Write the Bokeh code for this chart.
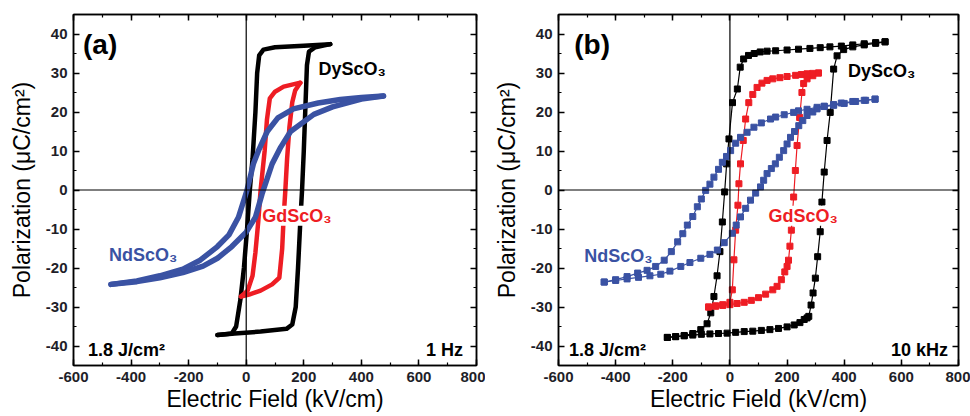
from bokeh.plotting import figure
from bokeh.models import (Span, Label, LinearAxis, SingleIntervalTicker, Range1d,
                          NumeralTickFormatter, CustomJSTickFormatter)
from bokeh.layouts import row
from bokeh.embed import file_html
from bokeh.resources import INLINE

# ---------------- Panel (a): 1 Hz ----------------
# DyScO3 (a)
a_dy_inc_E = [-100, -40, 50, 140, 160, 172, 180, 188, 194, 200, 206, 211, 218, 240, 292]
a_dy_inc_P = [-37.2, -36.8, -36.3, -35.6, -34.5, -30, -20, -8, 0, 10, 22, 32, 35.5, 36.6, 37.4]
a_dy_dec_E = [292, 200, 100, 60, 45, 38, 32, 22, 12.5, 3, -8, -20, -35, -50, -100]
a_dy_dec_P = [37.4, 37.0, 36.6, 36.0, 34.5, 30, 20, 8, 0, -10, -20, -28, -35, -36.8, -37.2]
# GdScO3 (a)
a_gd_inc_E = [-18, 10, 50, 90, 115, 125, 130, 136, 142, 150, 160, 170, 188]
a_gd_inc_P = [-27.3, -26.8, -25.8, -24.2, -22.5, -15, -7, 0, 8, 16, 22.5, 25.5, 27.5]
a_gd_dec_E = [188, 170, 130, 100, 82, 72, 64, 50, 42, 32, 22, 5, -18]
a_gd_dec_P = [27.5, 27.2, 26.5, 25.2, 23.5, 18, 10, 0, -8, -16, -22, -25.8, -27.3]
# NdScO3 (a)
a_nd_dec_E = [477, 400, 327, 250, 164, 110, 73, 45, 25, 3, -27, -60, -100, -160, -220, -300, -380, -470]
a_nd_dec_P = [24.1, 23.7, 23.2, 22.3, 20.8, 18.5, 15, 10.5, 6.7, 0, -7, -11.5, -14.5, -18, -20.3, -22, -23.3, -24.2]
a_nd_inc_E = [-470, -380, -300, -220, -150, -100, -50, 0, 32, 55, 90, 120, 154, 235, 300, 400, 477]
a_nd_inc_P = [-24.2, -23.5, -22.5, -21.2, -19.5, -17.5, -14.5, -10.8, -7, -1, 6.7, 11, 15, 19.4, 21.3, 23.3, 24.1]

# ---------------- Panel (b): 10 kHz ----------------
# DyScO3 (b)
b_dy_inc_E = [-219, -190, -160, -130, -100, -70, -40, -10, 20, 50, 80, 110, 140, 170, 200, 225, 245, 260,
              270, 276, 284, 291, 299, 307, 316, 322, 330, 340, 351, 363, 375, 398, 430, 470, 510, 543]
b_dy_inc_P = [-37.8, -37.6, -37.4, -37.2, -37.0, -36.9, -36.8, -36.7, -36.5, -36.3, -36.2, -36.0, -35.8, -35.5,
              -35.1, -34.6, -34.0, -33.2, -32.8, -32.4, -29.5, -26.4, -22.6, -17.1, -10.7, -3.1, 4.6, 12.7,
              19.9, 31.0, 34.4, 36.0, 36.7, 37.2, 37.6, 38.0]
b_dy_dec_E = [543, 510, 470, 430, 390, 350, 316, 280, 240, 200, 160, 130, 106, 85, 65, 48, 36, 26, 9,
              -3.4, -11.5, -18.5, -26.5, -35, -45, -56, -67, -80, -102, -130, -160, -190, -219]
b_dy_dec_P = [38.0, 37.8, 37.5, 37.2, 36.9, 36.7, 36.5, 36.3, 36.1, 35.9, 35.7, 35.6, 35.4, 35.0, 34.5,
              33.6, 31.5, 25.9, 22.4, 13.1, 6.7, -0.5, -8.2, -15.8, -22.0, -27.3, -31.5, -34.3, -35.8,
              -36.8, -37.3, -37.6, -37.8]
# GdScO3 (b)
b_gd_inc_E = [-75, -50, -25, 0, 25, 50, 75, 100, 125, 150, 165, 180, 192, 200, 205, 210, 215, 219, 223,
              229, 235, 244, 252, 258, 270, 290, 310]
b_gd_inc_P = [-30.0, -29.8, -29.6, -29.4, -29.1, -28.8, -28.3, -27.6, -26.7, -25.6, -24.7, -23.0, -21.0,
              -19.6, -18.0, -14.4, -10.3, -6.0, -1.8, 5.0, 11.4, 18.6, 25.0, 27.3, 28.5, 29.3, 30.0]
b_gd_dec_E = [310, 290, 270, 250, 230, 200, 175, 150, 130, 112, 95, 80, 66, 55, 46.6, 37, 31.5, 28, 20,
              14, 8.4, 0, -25, -50, -75]
b_gd_dec_P = [30.0, 29.9, 29.8, 29.6, 29.4, 29.1, 28.8, 28.5, 28.1, 27.4, 26.3, 24.5, 22.4, 18.2, 12.7,
              6.7, 1.6, -3.9, -10.3, -17.9, -25.6, -28.8, -29.4, -29.7, -30.0]
# NdScO3 (b)
b_nd_dec_E = [508, 470, 430, 390, 363, 330, 305, 270, 240, 223, 190, 160, 142, 110, 84, 60, 37, 20, 2.4,
              -12, -26.5, -40, -56, -70, -85, -100, -114, -130, -149, -165, -183, -205, -230, -260, -290,
              -323, -360, -400, -440]
b_nd_dec_P = [23.3, 23.0, 22.7, 22.3, 21.9, 21.5, 21.2, 20.7, 20.3, 19.9, 19.3, 18.7, 18.2, 17.2, 16.1,
              14.8, 13.5, 12.0, 10.1, 8.6, 7.1, 5.3, 3.3, 1.5, -0.1, -2.3, -4.3, -6.8, -9.0, -11.2, -13.3,
              -15.8, -18.0, -19.6, -20.6, -21.3, -22.2, -23.0, -23.6]
b_nd_inc_E = [-440, -400, -360, -320, -280, -242, -210, -172, -140, -102, -70, -44, -20, 8.4, 22, 37, 55,
              72, 90, 107, 118, 130, 145, 159, 173, 188, 200, 212, 226, 241, 255, 270, 290, 305, 330, 363,
              400, 440, 475, 508]
b_nd_inc_P = [-23.6, -23.2, -22.8, -22.4, -22.0, -21.6, -20.8, -19.6, -18.6, -17.5, -16.5, -15.4, -13.5,
              -11.1, -9.0, -6.9, -4.7, -2.6, -0.8, 0.8, 2.5, 4.2, 5.5, 6.7, 8.4, 10.1, 11.8, 13.5, 15.0,
              16.5, 17.8, 19.1, 20.0, 20.8, 21.4, 21.7, 22.2, 22.7, 23.0, 23.3]

x_ticks_interval = 200
y_ticks_interval = 10

BLACK = "#000000"
RED = "#ee1d24"
BLUE = "#3a52a3"
FONT = "Liberation Sans"
TICKC = "#1e1e28"


def make_fig(width, border_right):
    p = figure(width=width, height=416, x_range=Range1d(-600, 800), y_range=Range1d(-45, 45),
               output_backend="svg", toolbar_location=None,
               min_border_left=73, min_border_right=border_right, min_border_top=14, min_border_bottom=51)
    p.grid.visible = False
    p.outline_line_color = "black"
    p.outline_line_width = 1.5
    p.background_fill_color = "white"
    p.border_fill_color = "white"
    xt = SingleIntervalTicker(interval=x_ticks_interval, num_minor_ticks=2)
    yt = SingleIntervalTicker(interval=y_ticks_interval, num_minor_ticks=2)
    p.xaxis.ticker = xt
    p.yaxis.ticker = yt
    for ax in (p.xaxis[0], p.yaxis[0]):
        ax.formatter = NumeralTickFormatter(format="0")
        ax.axis_line_width = 1.5
        ax.major_tick_in = 6
        ax.major_tick_out = 0
        ax.minor_tick_in = 3
        ax.minor_tick_out = 0
        ax.major_tick_line_width = 1.5
        ax.minor_tick_line_width = 1.2
        ax.major_label_text_font = FONT
        ax.major_label_text_font_style = "bold"
        ax.major_label_text_font_size = "15px"
        ax.major_label_text_color = TICKC
        ax.major_label_text_line_height = 1.0
        ax.axis_label_text_font = FONT
        ax.axis_label_text_font_style = "normal"
        ax.axis_label_text_color = "black"
        ax.axis_label_text_line_height = 1.0
        ax.axis_label_text_font_size = "23px"
    p.xaxis.axis_label = "Electric Field (kV/cm)"
    p.xaxis.major_label_standoff = 6
    p.xaxis.axis_label_standoff = 1
    p.yaxis.axis_label = "Polarization (\u03bcC/cm\u00b2)"
    p.yaxis.major_label_standoff = 6
    p.yaxis.axis_label_standoff = 8
    for loc, tk in (("above", xt), ("right", yt)):
        ax = LinearAxis(ticker=tk, formatter=CustomJSTickFormatter(code="return ''"),
                        major_label_standoff=0, axis_label_standoff=0, axis_line_width=1.5,
                        major_tick_in=6, major_tick_out=0, minor_tick_in=3, minor_tick_out=0,
                        major_tick_line_width=1.5, minor_tick_line_width=1.2)
        p.add_layout(ax, loc)
    p.add_layout(Span(location=0, dimension="width", line_color="black", line_width=1.2))
    p.add_layout(Span(location=0, dimension="height", line_color="black", line_width=1.2))
    return p


def add_label(p, x, y, text, color="black", size="18px", align="left", bg=None):
    lab = Label(x=x, y=y, text=text, text_font=FONT, text_font_size=size, text_font_style="bold",
                text_color=color, text_align=align, text_baseline="middle")
    if bg:
        lab.background_fill_color = bg
    p.add_layout(lab)


# ---- panel (a)
pa = make_fig(485, 9)
for E, P, c, w in ((a_dy_inc_E, a_dy_inc_P, BLACK, 4.5), (a_dy_dec_E, a_dy_dec_P, BLACK, 4.5),
                   (a_gd_inc_E, a_gd_inc_P, RED, 4.5), (a_gd_dec_E, a_gd_dec_P, RED, 4.5),
                   (a_nd_dec_E, a_nd_dec_P, BLUE, 5.5), (a_nd_inc_E, a_nd_inc_P, BLUE, 5.5)):
    pa.line(E, P, line_color=c, line_width=w, line_join="round", line_cap="round")

add_label(pa, -567, 37.4, "(a)", size="28px")
add_label(pa, 251, 31.1, "DyScO\u2083")
add_label(pa, 56, -6.6, "GdScO\u2083", color=RED, bg="white")
add_label(pa, -477, -16.6, "NdScO\u2083", color=BLUE)
add_label(pa, -550, -41.1, "1.8 J/cm\u00b2")
add_label(pa, 753, -41.1, "1 Hz", align="right")

# ---- panel (b)
pb = make_fig(485, 12)
for E, P, c in ((b_dy_inc_E, b_dy_inc_P, BLACK), (b_dy_dec_E, b_dy_dec_P, BLACK),
                (b_gd_inc_E, b_gd_inc_P, RED), (b_gd_dec_E, b_gd_dec_P, RED),
                (b_nd_dec_E, b_nd_dec_P, BLUE), (b_nd_inc_E, b_nd_inc_P, BLUE)):
    pb.line(E, P, line_color=c, line_width=1.2)
    pb.scatter(E, P, marker="square", size=6, fill_color=c, line_color=c)

add_label(pb, -545, 37.4, "(b)", size="28px")
add_label(pb, 413, 30.4, "DyScO\u2083")
add_label(pb, 135, -6.6, "GdScO\u2083", color=RED, bg="white")
add_label(pb, -510, -16.8, "NdScO\u2083", color=BLUE)
add_label(pb, -563, -41.1, "1.8 J/cm\u00b2")
add_label(pb, 763, -41.1, "10 kHz", align="right")

layout = row(pa, pb)
open("out.html", "w").write(file_html(layout, INLINE))
